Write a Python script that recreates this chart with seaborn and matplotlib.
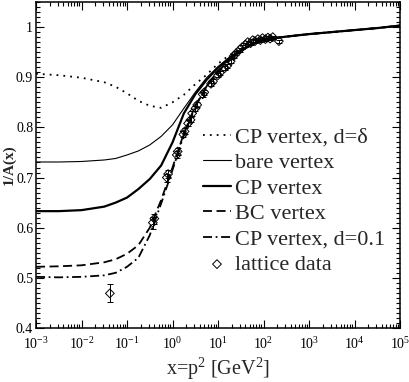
import numpy as np
import pandas as pd
import matplotlib
matplotlib.use("Agg")
import matplotlib.pyplot as plt
import matplotlib.ticker as mticker
import seaborn as sns

# ---- data ----
log_x = [-3, -2.5, -2, -1.5, -1.25, -1, -0.75, -0.5, -0.25, 0, 0.25, 0.5, 0.75,
         1, 1.25, 1.5, 1.75, 2, 2.5, 3, 3.5, 4, 4.5, 5]
cp_delta = [0.907, 0.904, 0.899, 0.890, 0.881, 0.868, 0.853, 0.843, 0.839, 0.850, 0.865, 0.886, 0.905,
            0.927, 0.944, 0.957, 0.966, 0.975, 0.981, 0.986, 0.990, 0.994, 0.998, 1.003]
bare = [0.731, 0.731, 0.732, 0.735, 0.738, 0.745, 0.753, 0.765, 0.782, 0.805, 0.838, 0.870, 0.899,
        0.921, 0.940, 0.955, 0.966, 0.975, 0.981, 0.986, 0.990, 0.994, 0.998, 1.003]
cp = [0.633, 0.633, 0.635, 0.642, 0.650, 0.660, 0.677, 0.697, 0.724, 0.770, 0.828, 0.866, 0.895,
      0.919, 0.938, 0.954, 0.966, 0.975, 0.981, 0.986, 0.990, 0.994, 0.998, 1.003]
bc = [0.522, 0.523, 0.525, 0.531, 0.537, 0.548, 0.565, 0.600, 0.655, 0.720, 0.788, 0.843, 0.883,
      0.911, 0.934, 0.952, 0.965, 0.975, 0.981, 0.986, 0.990, 0.994, 0.998, 1.003]
cp_01 = [0.502, 0.501, 0.502, 0.505, 0.510, 0.522, 0.540, 0.585, 0.648, 0.715, 0.785, 0.841, 0.882,
         0.910, 0.933, 0.952, 0.965, 0.975, 0.981, 0.986, 0.990, 0.994, 0.998, 1.003]

lat_x = [0.042, 0.37, 0.40, 0.75, 0.80, 1.24, 1.30, 1.73, 1.85, 2.2, 2.5, 2.7, 3.2, 3.5, 4.6, 5.0,
         7.0, 7.8, 10, 11, 14, 16, 19, 22, 25, 30, 34, 40, 45, 52, 58, 65, 75, 85, 95, 110,
         125, 140, 160, 218]
lat_y = [0.469, 0.610, 0.618, 0.700, 0.707, 0.745, 0.752, 0.786, 0.792, 0.808, 0.815, 0.828, 0.838,
         0.845, 0.866, 0.870, 0.887, 0.892, 0.904, 0.909, 0.918, 0.923, 0.932, 0.942, 0.948, 0.955,
         0.960, 0.965, 0.970, 0.968, 0.974, 0.972, 0.976, 0.974, 0.978, 0.976, 0.979, 0.977, 0.980,
         0.972]
lat_err = [0.018, 0.012, 0.010, 0.008, 0.008, 0.007, 0.007, 0.006, 0.006, 0.006, 0.005, 0.005,
           0.005, 0.005, 0.005, 0.005, 0.005, 0.004, 0.004, 0.004, 0.004, 0.004, 0.004, 0.004,
           0.004, 0.004, 0.004, 0.004, 0.003, 0.003, 0.003, 0.003, 0.003, 0.003, 0.003, 0.003,
           0.003, 0.003, 0.003, 0.003]

x_ticks = [1e-3, 1e-2, 1e-1, 1e0, 1e1, 1e2, 1e3, 1e4, 1e5]
y_ticks = [0.4, 0.5, 0.6, 0.7, 0.8, 0.9, 1.0]

# ---- style ----
sns.set_theme(style="ticks")
plt.rcParams["font.family"] = ["Liberation Serif", "DejaVu Serif"]
plt.rcParams["mathtext.fontset"] = "custom"
plt.rcParams["mathtext.rm"] = "Liberation Serif"
plt.rcParams["mathtext.it"] = "Liberation Serif:italic"
plt.rcParams["mathtext.bf"] = "Liberation Serif:bold"

fig = plt.figure(figsize=(4.09, 3.82), dpi=100)
ax = fig.add_axes([36 / 409, 1 - 328 / 382, 364 / 409, 326 / 382])

xs = [10 ** v for v in log_x]
df = pd.DataFrame({"x": xs, "cp_delta": cp_delta, "bare": bare, "cp": cp,
                   "bc": bc, "cp_01": cp_01})

sns.lineplot(data=df, x="x", y="cp_delta", ax=ax, color="black", lw=1.3,
             linestyle=(0, (1, 2.8)), label="CP vertex, d=δ", sort=False)
sns.lineplot(data=df, x="x", y="bare", ax=ax, color="black", lw=0.8,
             label="bare vertex", sort=False)
sns.lineplot(data=df, x="x", y="cp", ax=ax, color="black", lw=1.6,
             label="CP vertex", sort=False)
sns.lineplot(data=df, x="x", y="bc", ax=ax, color="black", lw=1.3,
             linestyle=(0, (5, 2.5)), label="BC vertex", sort=False)
sns.lineplot(data=df, x="x", y="cp_01", ax=ax, color="black", lw=1.3,
             linestyle=(0, (5, 2, 1, 2)), label="CP vertex, d=0.1", sort=False)

ldf = pd.DataFrame({"x": lat_x, "y": lat_y, "err": lat_err})
ax.errorbar(ldf["x"], ldf["y"], yerr=ldf["err"], fmt="none", ecolor="black",
            elinewidth=0.7, capsize=2.5, capthick=0.7)
sns.scatterplot(data=ldf, x="x", y="y", ax=ax, marker="D", s=20,
                facecolor="none", edgecolor="black", linewidth=0.7,
                label="lattice data")

ax.set_xscale("log")
ax.set_xlim(1e-3, 1e5)
ax.set_ylim(0.4, 1.05)
ax.set_xticks(x_ticks)
ax.xaxis.set_major_formatter(mticker.FuncFormatter(
    lambda v, p: r"$10^{%d}$" % int(round(np.log10(v)))))
ax.xaxis.set_minor_locator(mticker.LogLocator(base=10, subs=np.arange(2, 10), numticks=20))
ax.xaxis.set_minor_formatter(mticker.NullFormatter())
ax.set_yticks(y_ticks)
ax.yaxis.set_major_formatter(mticker.FuncFormatter(lambda v, p: "%g" % v))
ax.yaxis.set_minor_locator(mticker.MultipleLocator(0.01))

ax.tick_params(which="both", direction="in", top=True, right=True,
               colors="black", width=0.8)
ax.tick_params(which="major", length=6)
ax.tick_params(which="minor", length=3)
ax.tick_params(axis="x", which="major", pad=6, labelsize=10)
ax.tick_params(axis="y", which="major", pad=2, labelsize=10)
for s in ax.spines.values():
    s.set_linewidth(1.1)
    s.set_color("black")

ax.set_xlabel(r"x=$\mathrm{p}^2$ [$\mathrm{GeV}^2$]", fontsize=14.5)
ax.xaxis.set_label_coords(0.5, -0.086)
ax.set_ylabel("1/A(x)", fontsize=11, fontweight="bold")
ax.yaxis.set_label_coords(-0.056, 0.5)

leg = ax.legend(loc="upper left", bbox_to_anchor=(0.459, 0.616), frameon=False,
                fontsize=16, handlelength=1.25, handletextpad=0.2,
                labelspacing=0.22, borderpad=0, borderaxespad=0)

fig.savefig("out.png", dpi=100)
